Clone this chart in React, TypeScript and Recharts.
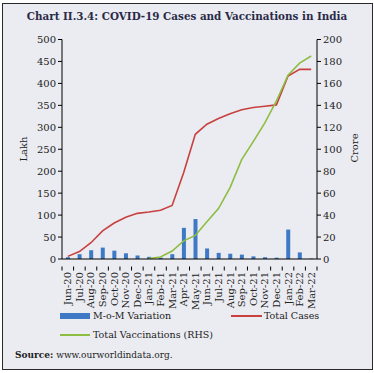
import React from 'react';
import { ComposedChart, Bar, Line, XAxis, YAxis } from 'recharts';

const months = ['Jun-20','Jul-20','Aug-20','Sep-20','Oct-20','Nov-20','Dec-20','Jan-21','Feb-21','Mar-21','Apr-21','May-21','Jun-21','Jul-21','Aug-21','Sep-21','Oct-21','Nov-21','Dec-21','Jan-22','Feb-22','Mar-22'];
const momVariation = [4, 11, 20, 26, 19, 13, 8, 5, 3, 11, 71, 91, 24, 14, 12, 10, 6, 4, 3, 67, 15, 1];
const totalCases = [6, 17, 37, 64, 82, 95, 104, 107, 111, 122, 197, 284, 307, 320, 331, 340, 345, 348, 351, 417, 432, 432];
const totalVaccinations: (number | null)[] = [null, null, null, null, null, null, null, 0.5, 1.8, 7.3, 16.5, 21.5, 34, 46, 65, 90.5, 107, 124, 144, 167.5, 178.5, 185];
const leftTicks = [0, 50, 100, 150, 200, 250, 300, 350, 400, 450, 500];
const rightTicks = [0, 20, 40, 60, 80, 100, 120, 140, 160, 180, 200];

const data = months.map((m, i) => ({
  month: m,
  mom: momVariation[i],
  cases: totalCases[i],
  vacc: totalVaccinations[i],
}));

const FONT = '"DejaVu Serif", serif';
const BLUE = '#3d79c4';
const RED = '#c8413f';
const GREEN = '#8dbe42';

const XTick = (props: any) => {
  const { x, y, payload, index } = props;
  const off = payload && payload.offset ? payload.offset : 5.8;
  return (
    <g>
      <line x1={x - off} y1={y - 0.5} x2={x - off} y2={y + 3.5} stroke="#000" strokeWidth={1} />
      {index === months.length - 1 ? (
        <line x1={x + off} y1={y - 0.5} x2={x + off} y2={y + 3.5} stroke="#000" strokeWidth={1} />
      ) : null}
      <text
        transform={`translate(${x},${y + 5}) rotate(-90)`}
        textAnchor="end"
        dy="0.35em"
        fontSize={10}
        fontFamily={FONT}
        fill="#222"
      >
        {payload.value}
      </text>
    </g>
  );
};

export default function App() {
  return (
    <div style={{ position: 'fixed', left: 0, top: 0, width: 374, height: 373, background: '#fff', fontFamily: FONT }}>
      <div
        style={{
          position: 'absolute',
          left: 1.5,
          top: 2.5,
          width: 369,
          height: 365,
          background: '#ebecf1',
          border: '1.4px solid #2a2a2a',
        }}
      />
      <div
        style={{
          position: 'absolute',
          left: 0,
          width: 374,
          top: 9,
          textAlign: 'center',
          fontFamily: '"DejaVu Serif Condensed", "DejaVu Serif", serif',
          fontWeight: 'bold',
          fontSize: 11.5,
          color: '#2a2a48',
          whiteSpace: 'nowrap',
        }}
      >
        Chart II.3.4: COVID-19 Cases and Vaccinations in India
      </div>
      <div style={{ position: 'absolute', left: 0, top: 0 }}>
        <ComposedChart
          width={374}
          height={320}
          data={data}
          margin={{ top: 39.5, right: 0, bottom: 0, left: 0 }}
          barCategoryGap={0}
          style={{ overflow: 'visible' }}
        >
          <XAxis
            dataKey="month"
            interval={0}
            height={61}
            tickLine={false}
            axisLine={{ stroke: '#000', strokeWidth: 1 }}
            tick={<XTick />}
          />
          <YAxis
            yAxisId="left"
            width={62}
            domain={[0, 500]}
            ticks={leftTicks}
            interval={0}
            tickSize={4}
            tickMargin={2}
            axisLine={{ stroke: '#000', strokeWidth: 1 }}
            tickLine={{ stroke: '#000' }}
            tick={{ fontSize: 10, fontFamily: FONT, fill: '#222' }}
          />
          <YAxis
            yAxisId="right"
            orientation="right"
            width={57}
            domain={[0, 200]}
            ticks={rightTicks}
            interval={0}
            tickSize={4}
            tickMargin={2}
            axisLine={{ stroke: '#000', strokeWidth: 1 }}
            tickLine={{ stroke: '#000' }}
            tick={{ fontSize: 10, fontFamily: FONT, fill: '#222' }}
          />
          <Bar yAxisId="left" dataKey="mom" fill={BLUE} barSize={4} isAnimationActive={false} />
          <Line yAxisId="left" type="linear" dataKey="cases" stroke={RED} strokeWidth={1.6} dot={false} isAnimationActive={false} />
          <Line yAxisId="right" type="linear" dataKey="vacc" stroke={GREEN} strokeWidth={1.6} dot={false} connectNulls={false} isAnimationActive={false} />
        </ComposedChart>
      </div>
      <div style={{ position: 'absolute', left: 22.5, top: 149, transform: 'translate(-50%,-50%) rotate(-90deg)', fontSize: 10, color: '#222', whiteSpace: 'nowrap' }}>Lakh</div>
      <div style={{ position: 'absolute', left: 354, top: 148, transform: 'translate(-50%,-50%) rotate(-90deg)', fontSize: 10, color: '#222', whiteSpace: 'nowrap' }}>Crore</div>

      <div style={{ position: 'absolute', left: 60, top: 313, width: 30, height: 6, background: BLUE }} />
      <div style={{ position: 'absolute', left: 93, top: 309, fontSize: 9.5, color: '#222', whiteSpace: 'nowrap', lineHeight: '14px' }}>M-o-M Variation</div>
      <div style={{ position: 'absolute', left: 231, top: 315.2, width: 31, height: 1.6, background: RED }} />
      <div style={{ position: 'absolute', left: 264, top: 309, fontSize: 9.5, color: '#222', whiteSpace: 'nowrap', lineHeight: '14px' }}>Total Cases</div>
      <div style={{ position: 'absolute', left: 60, top: 334.2, width: 30, height: 1.6, background: GREEN }} />
      <div style={{ position: 'absolute', left: 93, top: 328, fontSize: 9.5, color: '#222', whiteSpace: 'nowrap', lineHeight: '14px' }}>Total Vaccinations (RHS)</div>
      <div style={{ position: 'absolute', left: 15, top: 348, fontSize: 9, color: '#222', whiteSpace: 'nowrap', lineHeight: '14px' }}>
        <b>Source:</b> www.ourworldindata.org.
      </div>
    </div>
  );
}
